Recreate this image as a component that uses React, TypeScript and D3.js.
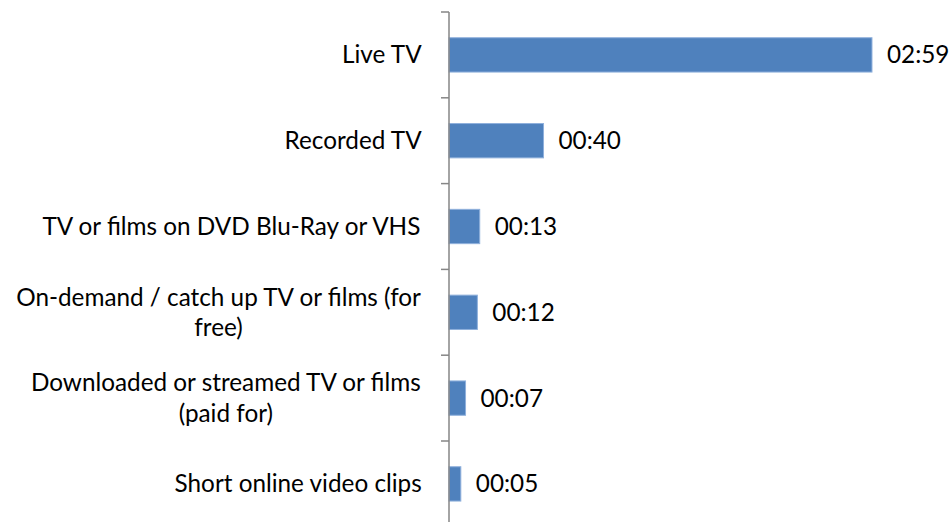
import React, { useMemo } from "react";
import * as d3 from "d3";

const categories = [
  "Live TV",
  "Recorded TV",
  "TV or films on DVD Blu-Ray or VHS",
  "On-demand / catch up TV or films (for free)",
  "Downloaded or streamed TV or films (paid for)",
  "Short online video clips",
];
// minutes per day
const minutes = [179, 40, 13, 12, 7, 5];

const W = 950;
const H = 522;
const FONT = "Lato, 'Open Sans', sans-serif";
const FS = 24.3;
const AXIS_X = 449;
const TOP = 12;
const STEP = 85.8;
const LABEL_RIGHT = 422;
const WRAP_MAX = 428;
const LINE_H = 30.5;

function fmt(v: number) {
  const h = Math.floor(v / 60);
  const m = v % 60;
  return `${String(h).padStart(2, "0")}:${String(m).padStart(2, "0")}`;
}

function useMeasure() {
  return useMemo(() => {
    const c = document.createElement("canvas");
    const ctx = c.getContext("2d")!;
    ctx.font = `${FS}px ${FONT}`;
    return (s: string) => ctx.measureText(s).width;
  }, []);
}

function wrap(text: string, measure: (s: string) => number, max: number) {
  const words = text.split(" ");
  const lines: string[] = [];
  let cur = "";
  for (const w of words) {
    const t = cur ? cur + " " + w : w;
    if (cur && measure(t) > max) {
      lines.push(cur);
      cur = w;
    } else cur = t;
  }
  if (cur) lines.push(cur);
  return lines;
}

export default function App() {
  const measure = useMeasure();
  const y = d3
    .scaleBand<string>()
    .domain(categories)
    .range([TOP, TOP + STEP * categories.length])
    .paddingInner(0.6)
    .paddingOuter(0.3);
  const x = d3.scaleLinear().domain([0, 180]).range([AXIS_X, AXIS_X + 180 * 2.363]);

  const tickYs = d3.range(categories.length + 1).map((i) => TOP + i * y.step());

  return (
    <svg
      width={W}
      height={H}
      style={{ position: "absolute", left: 0, top: 0, background: "#fff" }}
      fontFamily={FONT}
      fontSize={FS}
    >
      <rect x={0} y={0} width={W} height={H} fill="#fff" />
      {categories.map((c, i) => {
        const by = y(c)!;
        const bw = y.bandwidth();
        const cy = by + bw / 2;
        const lines = wrap(c, measure, WRAP_MAX);
        const maxW = Math.max(...lines.map(measure));
        const cx = LABEL_RIGHT - maxW / 2;
        return (
          <g key={c}>
            <rect
              x={x(0)}
              y={by}
              width={x(minutes[i]) - x(0)}
              height={bw}
              fill="#4F81BD"
              stroke="#8FB0DC"
              strokeWidth={1}
            />
            <text x={x(minutes[i]) + 15} y={cy} dy="0.35em" fill="#000">
              {fmt(minutes[i])}
            </text>
            {lines.map((l, j) => (
              <text
                key={j}
                x={cx}
                y={cy + (j - (lines.length - 1) / 2) * LINE_H}
                dy="0.35em"
                textAnchor="middle"
                fill="#000"
              >
                {l}
              </text>
            ))}
          </g>
        );
      })}
      <line x1={AXIS_X} x2={AXIS_X} y1={TOP} y2={tickYs[tickYs.length - 1]} stroke="#868686" strokeWidth={1.5} />
      {tickYs.map((ty, i) => (
        <line key={i} x1={AXIS_X - 8} x2={AXIS_X} y1={ty} y2={ty} stroke="#868686" strokeWidth={1.5} />
      ))}
    </svg>
  );
}
